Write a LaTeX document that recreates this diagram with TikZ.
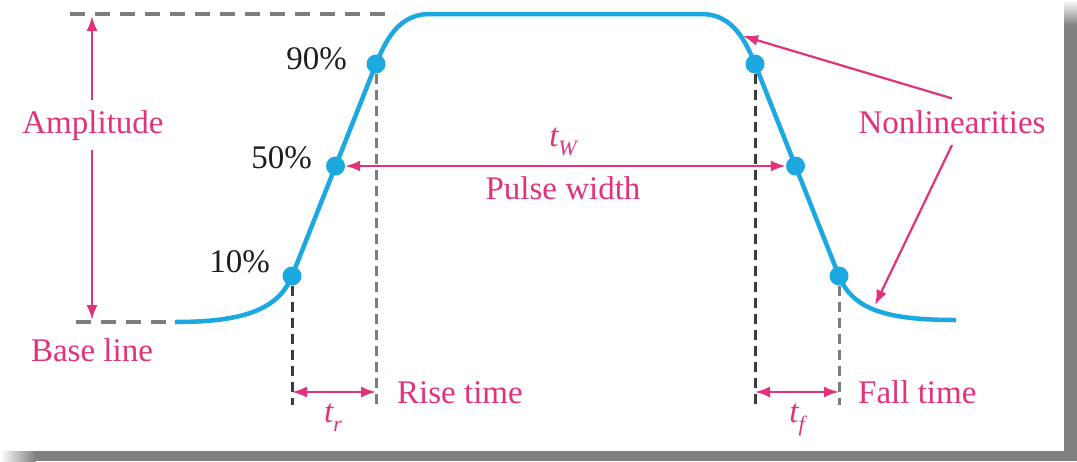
\documentclass[tikz,border=0pt]{standalone}
\usepackage{fontspec}
\setmainfont{Liberation Serif}
\usetikzlibrary{arrows.meta}
\definecolor{pulseblue}{RGB}{28,168,225}
\definecolor{labelpink}{RGB}{226,50,122}
\definecolor{dashgray}{RGB}{125,125,125}
\definecolor{vdashdark}{RGB}{60,60,60}
\definecolor{vdashlight}{RGB}{125,125,125}
\definecolor{shadowgray}{RGB}{128,128,128}
\definecolor{pcttext}{RGB}{30,30,30}
\begin{document}
\begin{tikzpicture}[x=1pt,y=-1pt,
  big/.style={font=\fontsize{33}{39}\selectfont},
  pinktext/.style={big, text=labelpink, inner sep=0pt, anchor=base},
  pct/.style={big, text=pcttext, inner sep=0pt, anchor=base east},
  dot/.style={circle, fill=pulseblue, minimum size=19pt, inner sep=0pt},
  pulse/.style={pulseblue, line width=4.5pt},
  hdash/.style={dashgray, line width=3.2pt, dash pattern=on 15pt off 10pt},
  vdashed/.style={line width=3pt, dash pattern=on 10pt off 6pt},
  pinkarrow/.style={labelpink, line width=2.2pt, -{Latex[length=15pt,width=11pt]}},
  dimarrow/.style={labelpink, line width=2.2pt, {Latex[length=15pt,width=11pt]}-{Latex[length=15pt,width=11pt]}},
]
\useasboundingbox (0,0) rectangle (1077,461);
% card and shadow
\fill[white] (0,0) rectangle (1077,461);
\fill[shadowgray] (1064,25) rectangle (1077,461);
\shade[top color=white, bottom color=shadowgray] (1064,0) rectangle (1077,25.5);
\fill[shadowgray] (35,451) rectangle (1077,461);
\shade[left color=white, right color=shadowgray] (0,451) rectangle (35.5,461);

% key points of the pulse
\coordinate (base0) at (175,322);
\coordinate (p10r) at (292,276);
\coordinate (p50r) at (335.5,166);
\coordinate (p90r) at (376,64);
\coordinate (p90f) at (755,64);
\coordinate (p50f) at (795.5,166);
\coordinate (p10f) at (839,276);
\coordinate (end0) at (956,320);

% reference dashed lines
\coordinate (topL) at (70,14);
\coordinate (topR) at (395,14);
\coordinate (baseL) at (76,322);
\draw[hdash] (topL) -- (topR);
\draw[hdash] (baseL) -- (base0);

% pulse curve
\draw[pulse] (base0) .. controls (240,322) and (278,311) .. (p10r) -- (p90r)
  .. controls (388,34) and (402,14) .. (430,14) -- (701,14)
  .. controls (729,14) and (743,34) .. (p90f) -- (p10f)
  .. controls (853,311) and (890,320) .. (end0);

% dots
\node[dot] (r10) at (p10r) {};
\node[dot] (r50) at (p50r) {};
\node[dot] (r90) at (p90r) {};
\node[dot] (f90) at (p90f) {};
\node[dot] (f50) at (p50f) {};
\node[dot] (f10) at (p10f) {};

% vertical dashed lines
\coordinate (r10b) at (292,405);
\coordinate (r90b) at (376,405);
\coordinate (f90b) at (755,405);
\coordinate (f10b) at (839,405);
\draw[vdashed, vdashdark] (r10) -- (r10b);
\draw[vdashed, vdashlight] (r90) -- (r90b);
\draw[vdashed, vdashdark] (f90) -- (f90b);
\draw[vdashed, vdashlight] (f10) -- (f10b);

% percent labels
\node[pct] (l90) at (347,69) {90\%};
\node[pct] (l50) at (312,168) {50\%};
\node[pct] (l10) at (270,272) {10\%};

% amplitude
\node[pinktext, inner ysep=10pt] (amp) at (93,133) {Amplitude};
\coordinate (amptop) at (92,16);
\coordinate (ampbot) at (92,320);
\draw[pinkarrow] (amp.north -| amptop) -- (amptop);
\draw[pinkarrow] (amp.south -| ampbot) -- (ampbot);
\node[pinktext] (bl) at (92,361) {Base line};

% pulse width
\draw[dimarrow] (r50) -- (f50);
\node[pinktext] (tw) at (563,146) {\itshape t\raisebox{-0.28em}{\fontsize{22}{24}\selectfont W}};
\node[pinktext] (pw) at (563,199) {Pulse width};

% rise time
\coordinate (trL) at (292,392);
\coordinate (trR) at (376,392);
\draw[dimarrow] (trL) -- (trR);
\node[pinktext] (tr) at (333,422) {\itshape t\raisebox{-0.28em}{\fontsize{22}{24}\selectfont r}};
\node[pinktext, anchor=base west] (rt) at (397,403) {Rise time};

% fall time
\coordinate (tfL) at (755,392);
\coordinate (tfR) at (839,392);
\draw[dimarrow] (tfL) -- (tfR);
\node[pinktext] (tf) at (797,422) {\itshape t\raisebox{-0.28em}{\fontsize{22}{24}\selectfont f}};
\node[pinktext, anchor=base west] (ft) at (858,403) {Fall time};

% nonlinearities
\node[pinktext, inner ysep=11.5pt] (nl) at (952,133) {Nonlinearities};
\coordinate (nlA) at (743,36);
\coordinate (nlB) at (875,305);
\draw[pinkarrow] (nl.north) -- (nlA);
\draw[pinkarrow] (nl.south) -- (nlB);
\end{tikzpicture}
\end{document}
